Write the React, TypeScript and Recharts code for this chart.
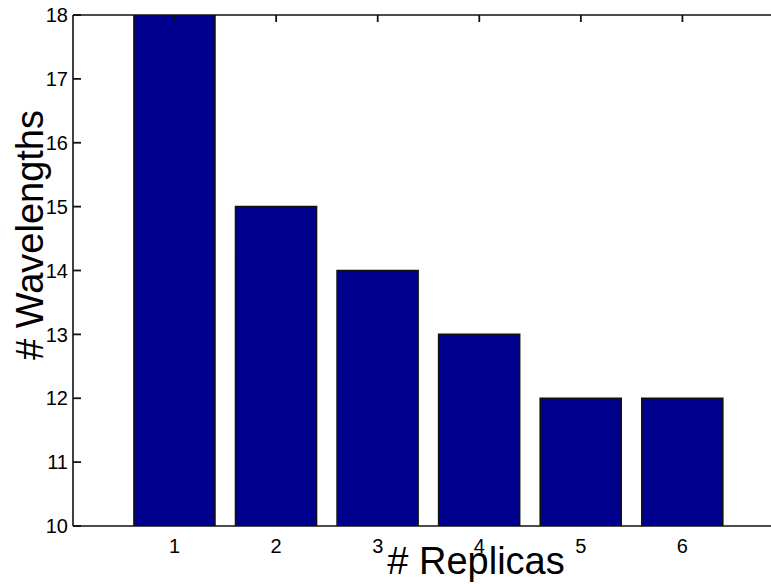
import React from 'react';
import { BarChart, Bar, XAxis, YAxis, Customized, ReferenceLine } from 'recharts';

const categories = ['1', '2', '3', '4', '5', '6'];
const wavelengths = [18, 15, 14, 13, 12, 12];
const yTicks = [10, 11, 12, 13, 14, 15, 16, 17, 18];

const data = categories.map((c, i) => ({ replicas: c, wavelengths: wavelengths[i] }));

const FONT = "'Liberation Sans', Arial, sans-serif";
const INK = '#111111';

const LeftTick = (props: any) => {
  const x = Number(props.x);
  const y = Number(props.y);
  return (
    <text x={x} y={y} dy="0.36em" textAnchor="end" fontFamily={FONT} fontSize={20} fill="#000">
      {props.payload.value}
    </text>
  );
};

const InnerLeftTick = (props: any) => {
  const x0 = Math.min(Number(props.x1), Number(props.x2));
  const y0 = Number(props.y1);
  return <path d={`M${x0},${y0}H${x0 + 8}`} stroke={INK} strokeWidth={1.8} fill="none" />;
};

const TopTick = (props: any) => {
  const x = Number(props.x);
  const y = Number(props.y);
  return <path d={`M${x},${y}V${y + 7}`} stroke={INK} strokeWidth={1.8} fill="none" />;
};

const BottomTick = (props: any) => {
  const { x, y, payload } = props;
  return (
    <text x={x} y={Number(y) + 27} textAnchor="middle" fontFamily={FONT} fontSize={20} fill="#000">
      {payload.value}
    </text>
  );
};

const AxisTitles = () => (
  <g>
    <text x={476} y={574} textAnchor="middle" fontFamily={FONT} fontSize={38} fill="#000">
      # Replicas
    </text>
    <text
      x={43}
      y={235}
      transform="rotate(-90, 43, 235)"
      textAnchor="middle"
      fontFamily={FONT}
      fontSize={38}
      fill="#000"
    >
      # Wavelengths
    </text>
  </g>
);

export default function App() {
  return (
    <div style={{ position: 'absolute', left: 0, top: 0, width: 771, height: 584, overflow: 'hidden', background: '#fff' }}>
      <BarChart
        width={800}
        height={584}
        data={data}
        margin={{ top: 14, right: 16, left: 0, bottom: 0 }}
        barCategoryGap="10%"
      >
        <XAxis
          xAxisId="top"
          orientation="top"
          dataKey="replicas"
          height={1}
          padding={{ left: 50.8, right: 50.8 }}
          tick={TopTick}
          tickLine={false}
          tickSize={0}
          tickMargin={0}
          interval={0}
          axisLine={{ stroke: INK, strokeWidth: 1.6 }}
        />
        <XAxis
          dataKey="replicas"
          height={58}
          padding={{ left: 50.8, right: 50.8 }}
          tickLine={false}
          tickSize={0}
          tickMargin={0}
          interval={0}
          axisLine={{ stroke: INK, strokeWidth: 1.6 }}
          tick={BottomTick}
        />
        <YAxis
          width={73}
          domain={[10, 18]}
          ticks={yTicks}
          interval={0}
          allowDataOverflow
          tickSize={0}
          tickMargin={5}
          tickLine={false}
          axisLine={{ stroke: INK, strokeWidth: 1.6 }}
          tick={LeftTick}
        />
        {yTicks.map((t) => (
          <ReferenceLine key={`yt-${t}`} y={t} shape={InnerLeftTick} />
        ))}
        <Bar
          dataKey="wavelengths"
          fill="#00008F"
          stroke={INK}
          strokeWidth={1.6}
          isAnimationActive={false}
        />
        <Customized component={AxisTitles} />
      </BarChart>
    </div>
  );
}
